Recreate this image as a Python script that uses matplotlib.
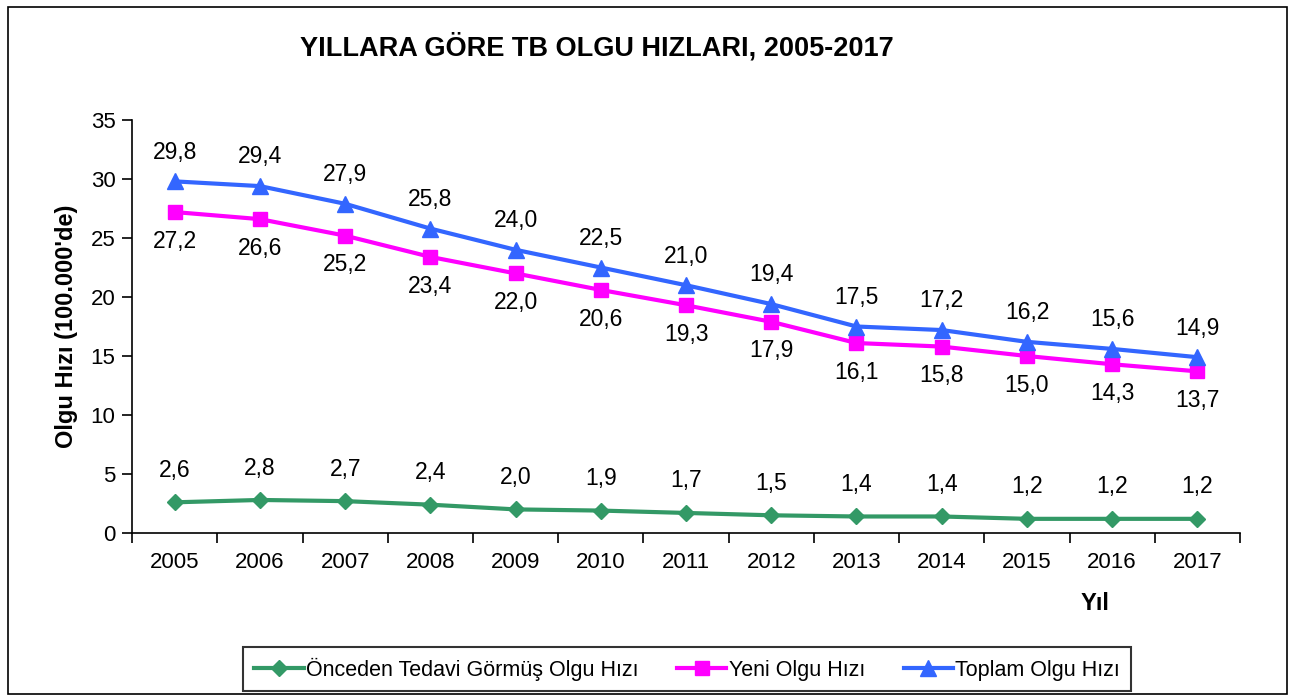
import matplotlib
matplotlib.use("Agg")
import matplotlib.pyplot as plt
from matplotlib.patches import Rectangle

plt.rcParams['font.family'] = ['Liberation Sans', 'DejaVu Sans']

years = ['2005', '2006', '2007', '2008', '2009', '2010', '2011', '2012', '2013', '2014', '2015', '2016', '2017']
onceden = [2.6, 2.8, 2.7, 2.4, 2.0, 1.9, 1.7, 1.5, 1.4, 1.4, 1.2, 1.2, 1.2]
yeni = [27.2, 26.6, 25.2, 23.4, 22.0, 20.6, 19.3, 17.9, 16.1, 15.8, 15.0, 14.3, 13.7]
toplam = [29.8, 29.4, 27.9, 25.8, 24.0, 22.5, 21.0, 19.4, 17.5, 17.2, 16.2, 15.6, 14.9]

fig = plt.figure(figsize=(12.91, 6.97), dpi=100)
fig.patches.append(Rectangle((0.006, 0.004), 0.991, 0.986, transform=fig.transFigure,
                             fill=False, edgecolor='black', linewidth=1.2))
ax = fig.add_axes([0.1023, 0.2353, 0.8582, 0.5925])

x = list(range(len(years)))
green = '#339966'
mag = '#FF00FF'
blue = '#3366FF'
l1, = ax.plot(x, onceden, color=green, lw=3, marker='D', ms=8.5, label='Önceden Tedavi Görmüş Olgu Hızı')
l2, = ax.plot(x, yeni, color=mag, lw=3, marker='s', ms=10.5, label='Yeni Olgu Hızı')
l3, = ax.plot(x, toplam, color=blue, lw=3, marker='^', ms=11.5, label='Toplam Olgu Hızı')

def fmt(v):
    return f"{v:.1f}".replace('.', ',')

lab = 16.5
for i in x:
    ax.annotate(fmt(toplam[i]), (i, toplam[i]), xytext=(0, 21), textcoords='offset points',
                ha='center', va='center', fontsize=lab)
    ax.annotate(fmt(yeni[i]), (i, yeni[i]), xytext=(0, -21), textcoords='offset points',
                ha='center', va='center', fontsize=lab)
    ax.annotate(fmt(onceden[i]), (i, onceden[i]), xytext=(0, 23), textcoords='offset points',
                ha='center', va='center', fontsize=lab)

ax.set_xlim(-0.5, len(years) - 0.5)
ax.set_ylim(0, 35)
ax.set_yticks(range(0, 36, 5))
ax.set_xticks(x)
ax.set_xticklabels(years, fontsize=16)
ax.set_xticks([i - 0.5 for i in range(len(years) + 1)], minor=True)
ax.tick_params(axis='x', which='major', length=0, pad=14)
ax.tick_params(axis='x', which='minor', length=7, direction='out', width=1.2)
ax.tick_params(axis='y', length=7, direction='out', width=1.2, labelsize=16, pad=5)
for s in ['top', 'right']:
    ax.spines[s].set_visible(False)
for s in ['left', 'bottom']:
    ax.spines[s].set_linewidth(1.2)

ax.set_ylabel("Olgu Hızı (100.000'de)", fontsize=17, fontweight='bold', labelpad=9)
fig.text(1095 / 1291, 1 - 603 / 697, 'Yıl', fontsize=17, fontweight='bold', ha='center', va='center')
fig.text(597 / 1291, 1 - 47 / 697, 'YILLARA GÖRE TB OLGU HIZLARI, 2005-2017', fontsize=19.5,
         fontweight='bold', ha='center', va='center')

leg = fig.legend(handles=[l1, l2, l3], loc='center', bbox_to_anchor=(687 / 1291, 1 - 669 / 697),
                 ncol=3, fontsize=15.5, frameon=True, fancybox=False, edgecolor='black',
                 handlelength=2.3, handletextpad=0.1, columnspacing=1.8, borderpad=0.5,
                 borderaxespad=0)
leg.get_frame().set_linewidth(1.5)

fig.savefig('out.png', dpi=100)
